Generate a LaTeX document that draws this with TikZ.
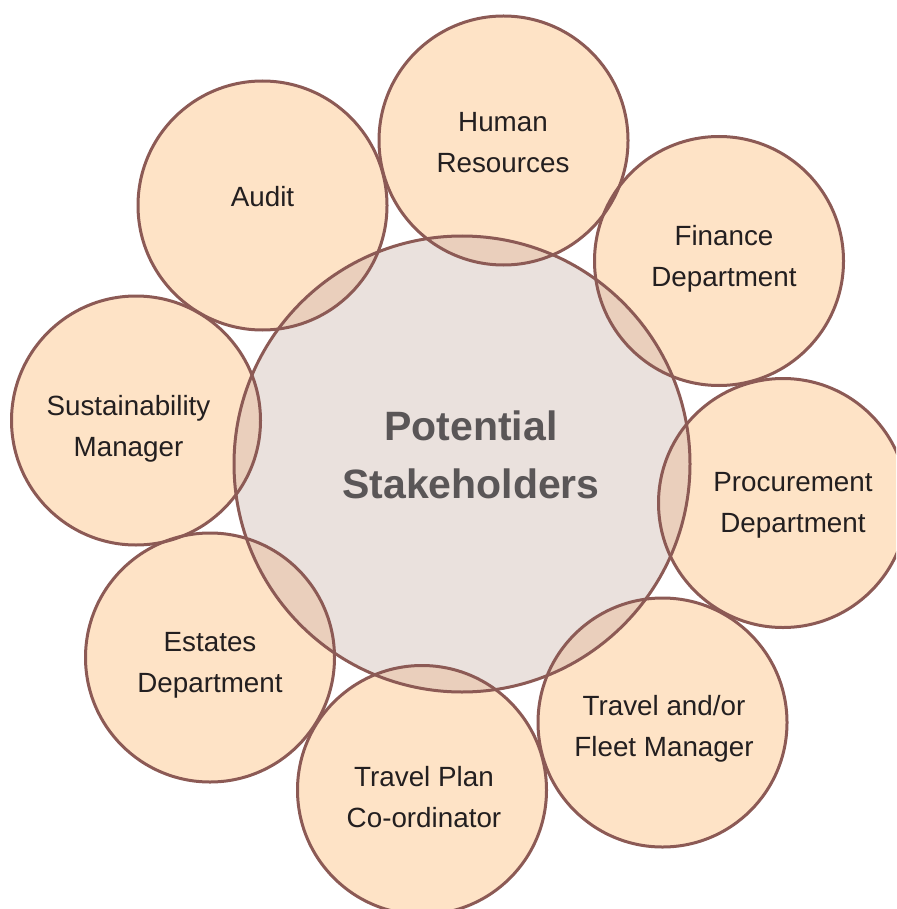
\documentclass[tikz,border=0pt]{standalone}
\usepackage{fontspec}
\setmainfont{Liberation Sans}
\definecolor{peach}{HTML}{FEE3C6}
\definecolor{core}{HTML}{EAE1DD}
\definecolor{lap}{HTML}{EACFBC}
\definecolor{rim}{HTML}{8C5A55}
\definecolor{ink}{HTML}{231F20}
\definecolor{coreink}{HTML}{5A5657}
\tikzset{
  outerfill/.style={fill=peach},
  rimline/.style={draw=rim, line width=3pt},
  lbl/.style={align=center, text=ink, inner sep=0pt, font=\fontsize{27.8}{41}\selectfont},
  corelbl/.style={align=center, text=coreink, inner sep=0pt, font=\fontsize{41}{58}\selectfont\bfseries},
}
\begin{document}
\begin{tikzpicture}[x=1pt,y=-1pt]
\useasboundingbox (0,0) rectangle (896,909);
% centres
\coordinate (c0) at (462,464);
\coordinate (c1) at (503.5,140.5);
\coordinate (c2) at (719,261);
\coordinate (c3) at (783,503);
\coordinate (c4) at (662.5,722.5);
\coordinate (c5) at (422,790);
\coordinate (c6) at (210,657.5);
\coordinate (c7) at (136,420.5);
\coordinate (c8) at (262.5,205.5);
\begin{scope}
\clip (0,0) rectangle (896,909);
% outer fills
\foreach \c in {c1,c2,c3,c4,c5,c6,c7,c8}
  \fill[outerfill] (\c) circle[radius=124.5];
% core fill
\fill[core] (c0) circle[radius=228];
% overlaps
\begin{scope}
\clip (c0) circle[radius=228];
\foreach \c in {c1,c2,c3,c4,c5,c6,c7,c8}
  \fill[lap] (\c) circle[radius=124.5];
\end{scope}
% outlines
\foreach \c in {c1,c2,c3,c4,c5,c6,c7,c8}
  \draw[rimline] (\c) circle[radius=124.5];
\draw[rimline] (c0) circle[radius=228];
\end{scope}
% labels
\node[corelbl] (tcore) at (471,455) {Potential\\Stakeholders};
\node[lbl] (thr) at (503,143) {Human\\Resources};
\node[lbl] (tfin) at (724,259) {Finance\\Department};
\node[lbl] (tpro) at (793,505) {Procurement\\Department};
\node[lbl] (tfleet) at (664,729) {Travel and/or\\Fleet Manager};
\node[lbl] (tplan) at (424,797) {Travel Plan\\Co-ordinator};
\node[lbl] (test) at (210,665) {Estates\\Department};
\node[lbl] (tsus) at (128.5,429) {Sustainability\\Manager};
\node[lbl] (taud) at (262.5,197) {Audit};
\end{tikzpicture}
\end{document}
